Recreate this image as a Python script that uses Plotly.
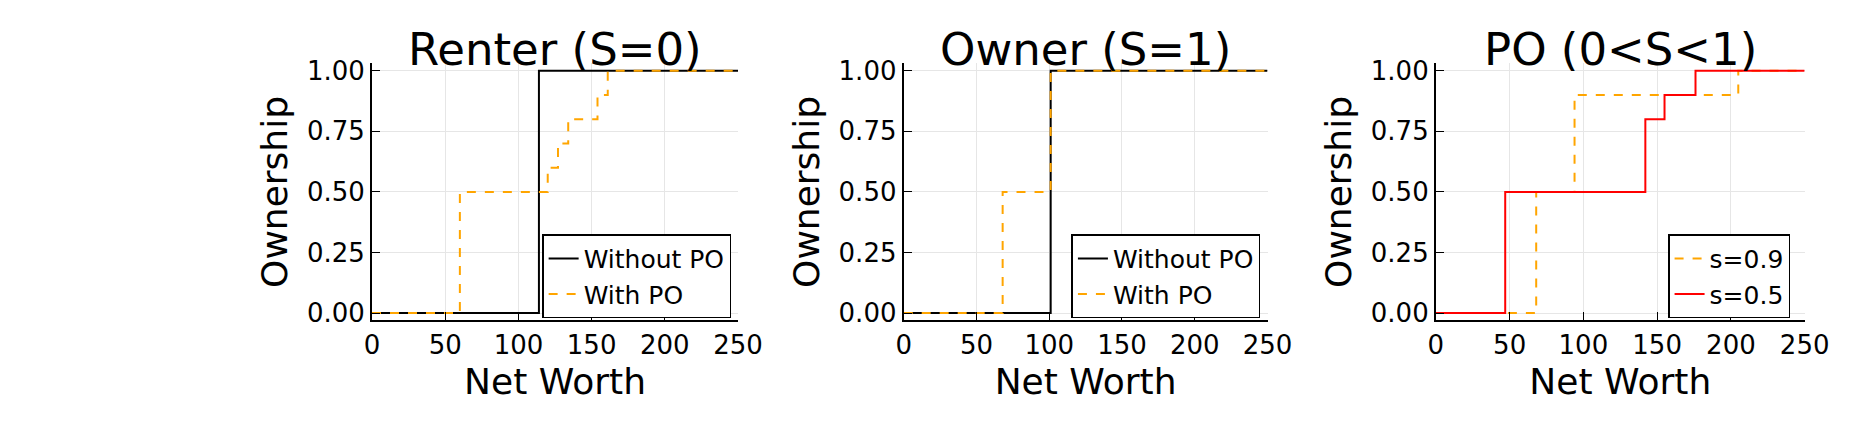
import plotly.graph_objects as go

# step data (x = net worth, y = ownership)
renter_without_x = [0, 114, 250]
renter_without_y = [0, 1, 1]
renter_with_x = [0, 60, 120, 127, 134, 154, 161, 250]
renter_with_y = [0, 0.5, 0.6, 0.7, 0.8, 0.9, 1.0, 1.0]

owner_without_x = [0, 101, 250]
owner_without_y = [0, 1, 1]
owner_with_x = [0, 68, 101, 250]
owner_with_y = [0, 0.5, 1.0, 1.0]

po_09_x = [0, 68, 94, 205, 250]
po_09_y = [0, 0.5, 0.9, 1.0, 1.0]
po_05_x = [0, 47, 142, 155, 176, 250]
po_05_y = [0, 0.5, 0.8, 0.9, 1.0, 1.0]

titles = ["Renter (S=0)", "Owner (S=1)", "PO (0<S<1)"]
xticks = [0, 50, 100, 150, 200, 250]
yticks = [0, 0.25, 0.5, 0.75, 1.0]
yticktext = ["0.00", "0.25", "0.50", "0.75", "1.00"]

FONT = "DejaVu Sans"
ORANGE = "#FFA500"

fig = go.Figure()


def step(x, y, name, color, dash, ax, legend):
    fig.add_trace(go.Scatter(
        x=x, y=y, name=name, mode="lines", line_shape="hv",
        line=dict(color=color, width=2, dash=dash),
        xaxis="x" + ax, yaxis="y" + ax, legend=legend,
    ))


step(renter_without_x, renter_without_y, "Without PO", "black", "solid", "", "legend")
step(renter_with_x, renter_with_y, "With PO", ORANGE, "dash", "", "legend")
step(owner_without_x, owner_without_y, "Without PO", "black", "solid", "2", "legend2")
step(owner_with_x, owner_with_y, "With PO", ORANGE, "dash", "2", "legend2")
step(po_09_x, po_09_y, "s=0.9", ORANGE, "dash", "3", "legend3")
step(po_05_x, po_05_y, "s=0.5", "red", "solid", "3", "legend3")

xdomains = [[0.1954, 0.3963], [0.4872, 0.6869], [0.7793, 0.9817]]
ydom = [0.257, 0.882]

axis_common = dict(
    showgrid=True, gridcolor="#e6e6e6", gridwidth=1, zeroline=False,
    showline=True, linecolor="black", linewidth=2,
    ticks="inside", ticklen=8, tickcolor="black",
    tickfont=dict(family=FONT, size=26, color="black"),
)

layout = dict(
    width=1855, height=426, autosize=False,
    plot_bgcolor="white", paper_bgcolor="white",
    margin=dict(l=0, r=0, t=0, b=0),
    font=dict(family=FONT, color="black"),
)
annotations = []
suffix = ["", "2", "3"]
for i, s in enumerate(suffix):
    layout["xaxis" + s] = dict(
        axis_common, domain=xdomains[i], range=[0, 250], tickvals=xticks,
        anchor="y" + s,
        title=dict(text="Net Worth", font=dict(family=FONT, size=36), standoff=10),
    )
    layout["yaxis" + s] = dict(
        axis_common, domain=ydom, range=[-0.03, 1.03], tickvals=yticks,
        ticktext=yticktext, anchor="x" + s,
        title=dict(text="Ownership", font=dict(family=FONT, size=36), standoff=8),
    )
    annotations.append(dict(
        text=titles[i], xref="paper", yref="paper",
        x=sum(xdomains[i]) / 2, y=0.915, xanchor="center", yanchor="middle",
        showarrow=False, font=dict(family=FONT, size=45, color="black"),
    ))

legend_style = dict(
    bgcolor="white", bordercolor="black", borderwidth=1.5,
    font=dict(family=FONT, size=25, color="black"),
    xanchor="right", yanchor="bottom", tracegroupgap=0,
    itemwidth=30,
)
layout["legend"] = dict(legend_style, x=0.3925, y=0.262)
layout["legend2"] = dict(legend_style, x=0.683, y=0.262)
layout["legend3"] = dict(legend_style, x=0.9737, y=0.262)
layout["annotations"] = annotations
layout["showlegend"] = True

fig.update_layout(layout)

fig.write_html("out.html")
